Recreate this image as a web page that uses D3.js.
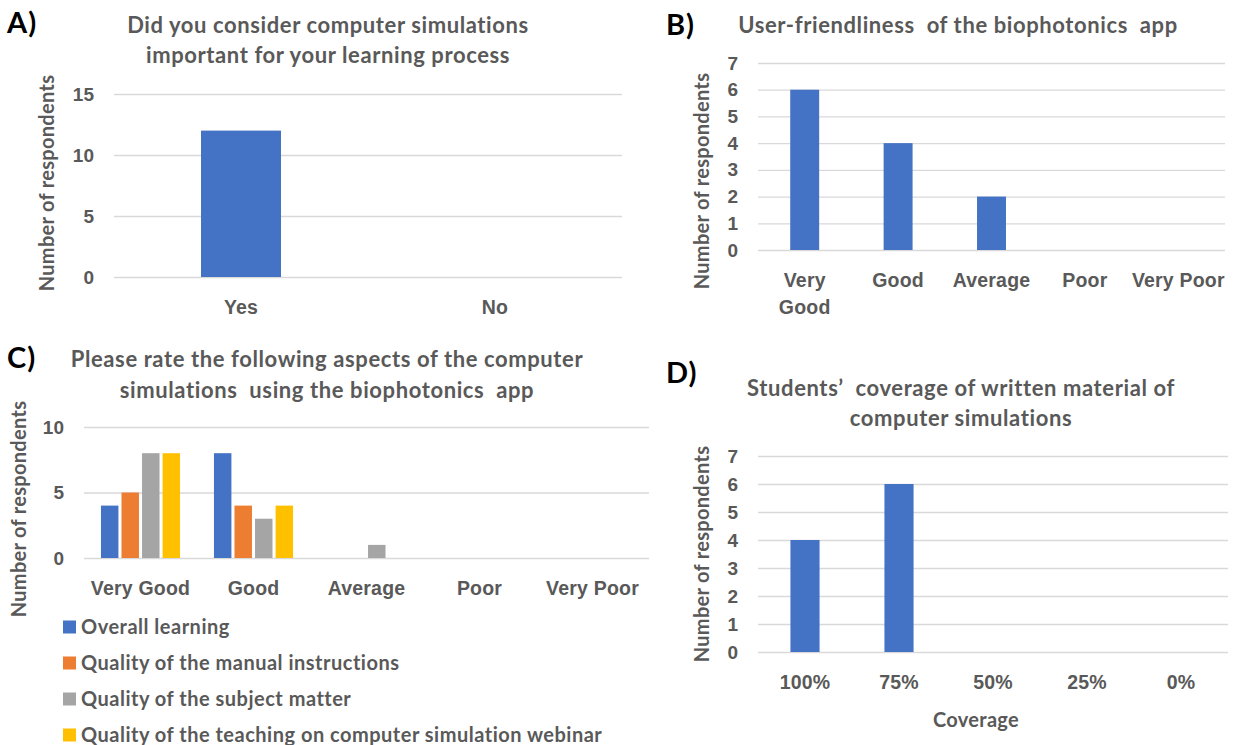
<!DOCTYPE html>
<html>
<head>
<meta charset="utf-8">
<script src="https://cdn.jsdelivr.net/npm/d3@7/dist/d3.min.js"></script>
<style>
  body { margin: 0; background: #fff; }
  svg { display: block; font-family: Lato, "Open Sans", sans-serif; }
  .tick text { fill: #595959; font-weight: 700; font-size: 19px; }
  .cat .tick text { font-size: 19.5px; letter-spacing: 0.2px; }
  .ttl { fill: #595959; font-weight: 700; font-size: 22px; letter-spacing: 0.6px; }
  .lbl { fill: #595959; font-weight: 700; font-size: 20px; letter-spacing: 0.3px; }
  .leg { fill: #595959; font-weight: 700; font-size: 20px; letter-spacing: 0.5px; }
  .letter { fill: #000; font-weight: 700; font-size: 29px; letter-spacing: 1px; }
</style>
</head>
<body>
<svg id="chart" width="1233" height="745"></svg>
<script>
// A) importance of simulations
const aCategories = ['Yes', 'No'];
const aValues = [12, 0];
const aTicks = [0, 5, 10, 15];

// B) user-friendliness
const bCategories = ['Very Good', 'Good', 'Average', 'Poor', 'Very Poor'];
const bValues = [6, 4, 2, 0, 0];
const bTicks = [0, 1, 2, 3, 4, 5, 6, 7];

// C) rating of aspects
const cCategories = ['Very Good', 'Good', 'Average', 'Poor', 'Very Poor'];
const cSeriesNames = [
    'Overall learning',
    'Quality of the manual instructions',
    'Quality of the subject matter',
    'Quality of the teaching on computer simulation webinar'
];
const cOverall = [4, 8, 0, 0, 0];
const cManual = [5, 4, 0, 0, 0];
const cSubject = [8, 3, 1, 0, 0];
const cTeaching = [8, 4, 0, 0, 0];
const cTicks = [0, 5, 10];

// D) coverage of written material
const dCategories = ['100%', '75%', '50%', '25%', '0%'];
const dValues = [4, 6, 0, 0, 0];
const dTicks = [0, 1, 2, 3, 4, 5, 6, 7];

const blue = '#4472c4';
const cColors = ['#4472c4', '#ed7d31', '#a5a5a5', '#ffc000'];

const svg = d3.select('#chart');

function drawPanel(p) {
    // Scales
    const x0 = d3.scaleBand()
        .domain(p.categories)
        .range([p.left, p.right])
        .paddingInner(p.pad)
        .paddingOuter(p.pad / 2);
    const x1 = d3.scaleBand()
        .domain(d3.range(p.series.length))
        .range([0, x0.bandwidth()])
        .paddingInner(p.series.length > 1 ? 0.15 : 0);
    const y = d3.scaleLinear()
        .domain([0, p.yMax])
        .range([p.bottom, p.top]);

    // Gridlines and value ticks
    svg.append('g')
        .attr('transform', `translate(${p.left},0)`)
        .call(d3.axisLeft(y).tickValues(p.ticks).tickFormat(d3.format('d'))
            .tickSize(-(p.right - p.left)).tickPadding(20))
        .call(g => g.select('.domain').remove())
        .call(g => g.selectAll('.tick line').attr('stroke', '#d9d9d9').attr('stroke-width', 1.3))
        .call(g => g.selectAll('.tick text').attr('font-family', null).attr('font-size', null));

    // Bars
    p.series.forEach((vals, si) => {
        svg.append('g')
            .selectAll('rect')
            .data(p.categories.map((c, i) => ({ cat: c, v: vals[i] })))
            .join('rect')
                .attr('x', d => x0(d.cat) + x1(si))
                .attr('y', d => y(d.v))
                .attr('width', x1.bandwidth())
                .attr('height', d => y(0) - y(d.v))
                .attr('fill', p.colors[si]);
    });

    // Category labels
    const cat = svg.append('g')
        .attr('class', 'cat')
        .attr('transform', `translate(0,${p.bottom})`)
        .call(d3.axisBottom(x0).tickSize(0).tickPadding(23))
        .call(g => g.select('.domain').remove())
        .call(g => g.selectAll('.tick text').attr('font-family', null).attr('font-size', null));
    if (p.wrap) {
        // only "Very Good" breaks onto two lines in panel B
        cat.selectAll('.tick text').each(function(d) {
            if (d !== 'Very Good') return;
            const t = d3.select(this).text(null);
            d.split(' ').forEach((w, i) => {
                t.append('tspan').attr('x', 0).attr('dy', i === 0 ? '0.71em' : '1.4em').text(w);
            });
        });
    }

    // Y axis title
    svg.append('text')
        .attr('class', 'lbl')
        .attr('transform', `translate(${p.yLabel[0] + 7},${p.yLabel[1]}) rotate(-90)`)
        .attr('text-anchor', 'middle')
        .text('Number of respondents');

    // Chart title
    p.title.forEach((line, i) => {
        svg.append('text')
            .attr('class', 'ttl')
            .attr('x', p.titlePos[0])
            .attr('y', p.titlePos[1] + i * p.titleGap + 8)
            .attr('text-anchor', 'middle')
            .attr('xml:space', 'preserve')
            .text(line);
    });

    // Panel letter
    svg.append('text')
        .attr('class', 'letter')
        .attr('x', p.letter[0])
        .attr('y', p.letter[1] + 10)
        .text(p.name);
}

drawPanel({
    name: 'A)', letter: [7, 23],
    categories: aCategories, series: [aValues], colors: [blue],
    ticks: aTicks, yMax: 15,
    left: 114, right: 622, top: 94, bottom: 277, pad: 0.685,
    yLabel: [47, 183],
    title: ['Did you consider computer simulations', 'important for your learning process'],
    titlePos: [328, 25], titleGap: 30
});

drawPanel({
    name: 'B)', letter: [666, 25],
    categories: bCategories, series: [bValues], colors: [blue],
    ticks: bTicks, yMax: 7, wrap: true,
    left: 758, right: 1225, top: 63, bottom: 250, pad: 0.69,
    yLabel: [702, 181],
    title: ['User-friendliness  of the biophotonics  app'],
    titlePos: [958, 25], titleGap: 30
});

drawPanel({
    name: 'C)', letter: [7, 358],
    categories: cCategories, series: [cOverall, cManual, cSubject, cTeaching], colors: cColors,
    ticks: cTicks, yMax: 10,
    left: 84, right: 649, top: 427, bottom: 558, pad: 0.3,
    yLabel: [19, 509],
    title: ['Please rate the following aspects of the computer', 'simulations  using the biophotonics  app'],
    titlePos: [327, 359], titleGap: 31
});

drawPanel({
    name: 'D)', letter: [666, 373],
    categories: dCategories, series: [dValues], colors: [blue],
    ticks: dTicks, yMax: 7,
    left: 758, right: 1228, top: 456, bottom: 652, pad: 0.69,
    yLabel: [702, 554],
    title: ['Students\u2019  coverage of written material of', 'computer simulations'],
    titlePos: [961, 388], titleGap: 30
});

// D x axis title
svg.append('text')
    .attr('class', 'lbl')
    .attr('x', 976)
    .attr('y', 727)
    .attr('text-anchor', 'middle')
    .text('Coverage');

// C legend
const legend = svg.append('g')
    .selectAll('g')
    .data(cSeriesNames)
    .join('g')
        .attr('transform', (d, i) => `translate(63,${627 + i * 36})`);
legend.append('rect')
    .attr('x', 0).attr('y', -6.5)
    .attr('width', 13).attr('height', 13)
    .attr('fill', (d, i) => cColors[i]);
legend.append('text')
    .attr('class', 'leg')
    .attr('x', 18).attr('y', 7)
    .text(d => d);
</script>
</body>
</html>
